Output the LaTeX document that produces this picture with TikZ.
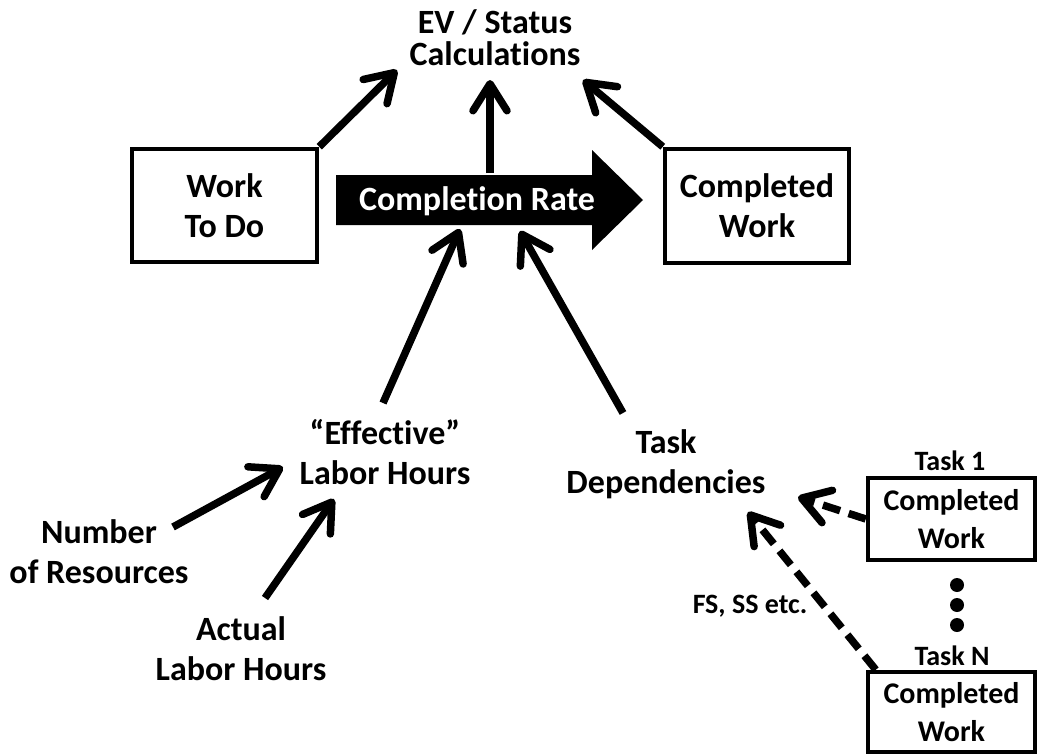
\documentclass[tikz,border=0pt]{standalone}
\usepackage{fontspec}
\setmainfont{Carlito}[Ligatures={NoCommon,NoContextual}]
\usetikzlibrary{arrows.meta}
\begin{document}
\begin{tikzpicture}[x=1pt,y=-1pt,
  lbl/.style={font=\bfseries\fontsize{34}{40}\selectfont, align=center, anchor=base, inner sep=0pt},
  slbl/.style={font=\bfseries\fontsize{28}{34}\selectfont, align=center, anchor=base, inner sep=0pt},
  box/.style={draw, line width=4.5pt, inner sep=0pt, align=center},
  arr/.style={line width=7.5pt, -{Straight Barb[length=27pt,width=34pt,round]}},
  darr/.style={arr, dash pattern=on 18pt off 9pt}
]
\useasboundingbox[fill=white] (0,0) rectangle (1037,755);

% title (anchor base = last line)
\node[lbl, font=\bfseries\fontsize{34}{32}\selectfont] (ev) at (495,65) {EV / Status\\Calculations};

% boxes
\node[box, minimum width=185pt, minimum height=113pt, font=\bfseries\fontsize{34}{40}\selectfont] (wtd) at (224.5,205.5) {Work\\To Do};
\node[box, minimum width=184pt, minimum height=114pt, font=\bfseries\fontsize{34}{40}\selectfont] (cw) at (757,206) {Completed\\Work};

% completion rate block arrow
\fill (336,175) -- (592,175) -- (592,150) -- (643,200) -- (592,250) -- (592,225) -- (336,225) -- cycle;
\node[lbl, text=white] (cr) at (477,210) {Completion Rate};

% lower labels
\node[lbl] (elh) at (385,484) {“Effective”\\Labor Hours};
\node[lbl] (td) at (666,493) {Task\\Dependencies};
\node[lbl] (nr) at (99,583) {Number\\of Resources};
\node[lbl] (alh) at (241,680) {Actual\\Labor Hours};

% task boxes
\node[slbl] (t1) at (950,470) {Task 1};
\node[box, minimum width=167pt, minimum height=82pt, font=\bfseries\fontsize{30}{38}\selectfont] (b1) at (951.5,519) {Completed\\Work};
\node[slbl] (tn) at (952,665) {Task N};
\node[box, minimum width=167pt, minimum height=80pt, font=\bfseries\fontsize{30}{38}\selectfont] (bn) at (951.5,712) {Completed\\Work};
\node[slbl] (fs) at (750,613) {FS, SS etc.};

\foreach \yy in {585,605,625} \fill (957,\yy) circle (7pt);

% connector end points
\coordinate (evL) at (397,70);
\coordinate (evM) at (490,80);
\coordinate (evR) at (583,80);
\coordinate (crT) at (490,173);
\coordinate (crBL) at (460,229);
\coordinate (crBR) at (520,231);
\coordinate (elhT) at (383,403);
\coordinate (tdT) at (623,413);
\coordinate (elhL) at (283,467);
\coordinate (elhB) at (334,499);
\coordinate (nrT) at (173,527);
\coordinate (alhT) at (265,598);
\coordinate (tdR) at (798,497);
\coordinate (tdB) at (748,512);

\draw[arr] (wtd.north east) -- (evL);
\draw[arr] (crT) -- (evM);
\draw[arr] (cw.north west) -- (evR);
\draw[arr] (elhT) -- (crBL);
\draw[arr] (tdT) -- (crBR);
\draw[arr] (nrT) -- (elhL);
\draw[arr] (alhT) -- (elhB);
\draw[darr] (b1.west) -- (tdR);
\draw[darr] ([xshift=10pt]bn.north west) -- (tdB);
\end{tikzpicture}
\end{document}
